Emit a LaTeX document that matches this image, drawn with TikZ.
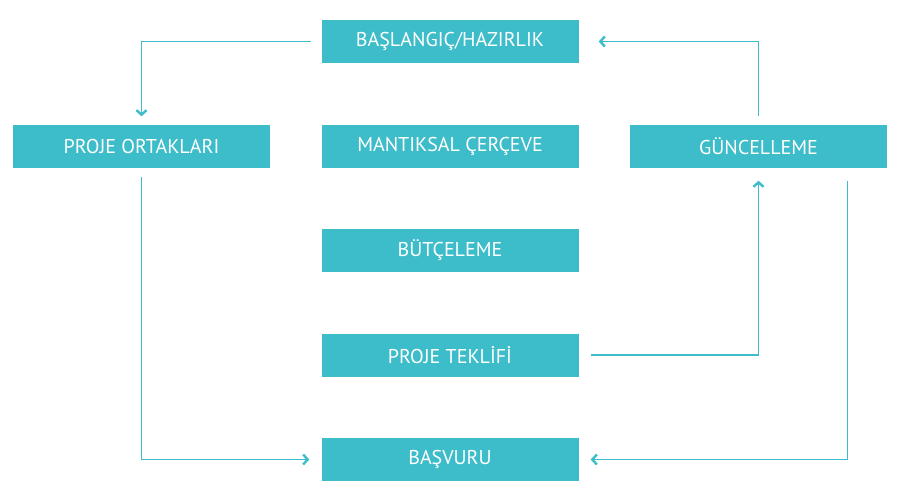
\documentclass[tikz,border=0pt]{standalone}
\usepackage{fontspec}
\setmainfont{PT Sans}
\usetikzlibrary{positioning, arrows.meta}
\definecolor{teal}{HTML}{3DBCC9}

\begin{document}
\begin{tikzpicture}[x=1pt,y=1pt,node distance=104.5pt,on grid,
    stage/.style={fill=teal,text=white,minimum width=257pt,minimum height=43pt,
      inner sep=0pt,font=\fontsize{20}{22}\selectfont},
    flow/.style={draw=teal,line width=1.4pt,-{Straight Barb[length=4.5pt,width=10pt,line width=2.4pt]}}]
  \useasboundingbox (0,0) rectangle (900,-496);
  % Define stages
  \node[stage] (baslangic) at (450,-41.5) {BAŞLANGIÇ/HAZIRLIK};
  \node[stage] (mantiksal) [below=of baslangic] {MANTIKSAL ÇERÇEVE};
  \node[stage] (ortaklar) [left=308.5pt of mantiksal] {PROJE ORTAKLARI};
  \node[stage] (guncelleme) [right=308.5pt of mantiksal] {GÜNCELLEME};
  \node[stage] (butceleme) [below=of mantiksal] {BÜTÇELEME};
  \node[stage] (teklif) [below=of butceleme] {PROJE TEKLİFİ};
  \node[stage] (basvuru) [below=of teklif] {BAŞVURU};
  \coordinate (geri) at ([xshift=-40pt]guncelleme.south east);

  % Define flow lines
  \draw[flow,shorten <=10pt,shorten >=8pt] (baslangic.west) -| (ortaklar.north);
  \draw[flow,shorten <=9pt,shorten >=12pt] (ortaklar.south) |- (basvuru.west);
  \draw[flow,shorten <=8pt,shorten >=20pt] (guncelleme.north) |- (baslangic.east);
  \draw[flow,shorten <=12pt,shorten >=13pt] (teklif.east) -| (guncelleme.south);
  \draw[flow,shorten <=13pt,shorten >=12pt] (geri) |- (basvuru.east);

\end{tikzpicture}
\end{document}
